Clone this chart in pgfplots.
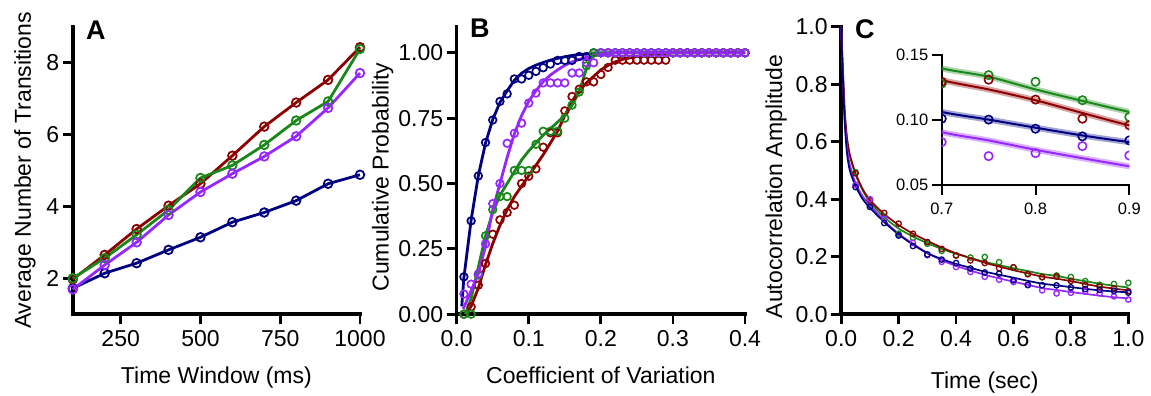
\documentclass[border=0pt]{standalone}
\usepackage{fontspec}
\setmainfont{Liberation Sans}
\usepackage{pgfplots}
\usepackage{pgfplotstable}
\pgfplotsset{compat=1.18}

\definecolor{cRed}{RGB}{140,0,0}
\definecolor{cGreen}{RGB}{25,135,25}
\definecolor{cPurple}{RGB}{150,40,255}
\definecolor{cBlue}{RGB}{0,0,128}

% ---------- Panel A data ----------
\pgfplotstableread{
x    blue red  green purple
100  1.72 1.97 2.00  1.69
200  2.14 2.65 2.56  2.37
300  2.42 3.37 3.21  3.00
400  2.79 4.02 3.90  3.76
500  3.14 4.63 4.79  4.40
600  3.56 5.41 5.14  4.91
700  3.83 6.22 5.71  5.39
800  4.16 6.89 6.39  5.95
900  4.63 7.52 6.92  6.74
1000 4.88 8.43 8.38  7.71
}\tabA

% ---------- Panel B data (empirical CDF points) ----------
\pgfplotstableread{
x    blue  red   green purple
0.01 0.143 0.000 0.000 0.077
0.02 0.357 0.028 0.000 0.115
0.03 0.529 0.111 0.150 0.154
0.04 0.657 0.194 0.300 0.269
0.05 0.743 0.306 0.400 0.423
0.06 0.814 0.361 0.450 0.500
0.07 0.843 0.389 0.450 0.654
0.08 0.900 0.417 0.550 0.692
0.09 0.900 0.500 0.550 0.731
0.10 0.914 0.528 0.550 0.808
0.11 0.929 0.556 0.650 0.846
0.12 0.943 0.639 0.700 0.885
0.13 0.957 0.694 0.700 0.885
0.14 0.971 0.694 0.700 0.885
0.15 0.971 0.778 0.750 0.885
0.16 0.971 0.833 0.800 0.923
0.17 0.986 0.861 0.850 0.923
0.18 0.986 0.889 0.950 0.962
0.19 1.000 0.889 1.000 0.962
0.20 1.000 0.917 1.000 1.000
0.21 1.000 0.944 1.000 1.000
0.22 1.000 0.972 1.000 1.000
0.23 1.000 0.972 1.000 1.000
0.24 1.000 0.972 1.000 1.000
0.25 1.000 0.972 1.000 1.000
0.26 1.000 0.972 1.000 1.000
0.27 1.000 0.972 1.000 1.000
0.28 1.000 0.972 1.000 1.000
0.29 1.000 0.972 1.000 1.000
0.30 1.000 1.000 1.000 1.000
0.31 1.000 1.000 1.000 1.000
0.32 1.000 1.000 1.000 1.000
0.33 1.000 1.000 1.000 1.000
0.34 1.000 1.000 1.000 1.000
0.35 1.000 1.000 1.000 1.000
0.36 1.000 1.000 1.000 1.000
0.37 1.000 1.000 1.000 1.000
0.38 1.000 1.000 1.000 1.000
0.39 1.000 1.000 1.000 1.000
0.40 1.000 1.000 1.000 1.000
}\tabB

\pgfplotstableread{
x     y
0.007 0.03
0.01  0.14
0.02  0.36
0.03  0.53
0.04  0.655
0.05  0.745
0.06  0.81
0.07  0.855
0.08  0.895
0.09  0.922
0.10  0.94
0.11  0.953
0.12  0.963
0.13  0.972
0.14  0.979
0.15  0.985
0.16  0.99
0.17  0.993
0.18  0.995
0.20  0.998
0.22  1.0
0.40  1.0
}\fitBblue

\pgfplotstableread{
x     y
0.009 0.02
0.02  0.09
0.03  0.155
0.04  0.26
0.05  0.40
0.06  0.50
0.07  0.60
0.08  0.69
0.09  0.76
0.10  0.815
0.11  0.855
0.12  0.89
0.13  0.915
0.14  0.935
0.15  0.952
0.16  0.965
0.17  0.975
0.18  0.983
0.19  0.99
0.20  0.995
0.22  1.0
0.40  1.0
}\fitBpurple

\pgfplotstableread{
x     y
0.012 0.0
0.02  0.06
0.03  0.18
0.04  0.30
0.05  0.39
0.06  0.455
0.07  0.50
0.08  0.545
0.09  0.59
0.10  0.625
0.11  0.655
0.12  0.685
0.13  0.71
0.14  0.735
0.15  0.76
0.16  0.80
0.17  0.85
0.18  0.94
0.19  1.0
0.40  1.0
}\fitBgreen

\pgfplotstableread{
x     y
0.012 0.0
0.02  0.03
0.03  0.10
0.04  0.19
0.05  0.27
0.06  0.34
0.07  0.40
0.08  0.45
0.09  0.49
0.10  0.53
0.11  0.57
0.12  0.61
0.13  0.655
0.14  0.70
0.15  0.76
0.16  0.815
0.17  0.855
0.18  0.885
0.19  0.91
0.20  0.935
0.21  0.952
0.22  0.965
0.23  0.975
0.25  0.986
0.28  0.996
0.30  1.0
0.40  1.0
}\fitBred

% ---------- Panel C data ----------
\pgfplotstableread{
x    blue   red    green  purple
0.05 0.442  0.490  0.494  0.450
0.10 0.373  0.396  0.398  0.400
0.15 0.317  0.352  0.340  0.332
0.20 0.274  0.315  0.280  0.274
0.25 0.237  0.280  0.266  0.248
0.30 0.208  0.251  0.245  0.205
0.35 0.190  0.227  0.220  0.182
0.40 0.178  0.204  0.205  0.164
0.45 0.159  0.187  0.197  0.147
0.50 0.145  0.178  0.199  0.130
0.55 0.141  0.160  0.181  0.120
0.60 0.118  0.163  0.163  0.112
0.65 0.102  0.139  0.141  0.101
0.70 0.101  0.1294 0.128  0.083
0.75 0.1003 0.131  0.1345 0.0722
0.80 0.0933 0.1157 0.1294 0.0745
0.85 0.0874 0.101  0.1152 0.0799
0.90 0.0843 0.0959 0.1023 0.0727
0.95 0.081  0.090  0.105  0.062
1.00 0.075  0.080  0.109  0.051
}\tabC

\pgfplotstableread{
x     blue   red    green  purple
0.000 1.000  1.000  1.000  1.000
0.003 0.900  0.920  0.920  0.900
0.006 0.820  0.850  0.850  0.820
0.012 0.670  0.710  0.710  0.680
0.020 0.560  0.615  0.610  0.580
0.030 0.500  0.555  0.550  0.520
0.050 0.445  0.490  0.485  0.455
0.075 0.400  0.435  0.430  0.410
0.100 0.370  0.397  0.390  0.380
0.150 0.320  0.348  0.337  0.325
0.200 0.277  0.310  0.298  0.280
0.250 0.242  0.280  0.270  0.245
0.300 0.212  0.255  0.247  0.213
0.350 0.192  0.232  0.227  0.188
0.400 0.175  0.212  0.210  0.168
0.500 0.148  0.179  0.182  0.137
0.600 0.127  0.153  0.160  0.113
0.650 0.116  0.142  0.150  0.102
0.700 0.1062 0.1307 0.1397 0.0907
0.750 0.1003 0.1235 0.1333 0.0843
0.800 0.0941 0.1152 0.1235 0.0771
0.850 0.0881 0.1054 0.1147 0.0706
0.900 0.0830 0.0959 0.1062 0.0644
0.950 0.0790 0.0890 0.0990 0.0590
1.000 0.0760 0.0830 0.0930 0.0550
}\fitC

\pgfplotsset{
  panel/.style={
    scale only axis, anchor=south west,
    axis lines=left,
    axis line style={line width=3.5pt, -, line cap=rect},
    tick style={line width=2.8pt, black},
    tick align=outside,
    major tick length=10pt,
    tick label style={font=\fontsize{23}{27}\selectfont},
    label style={font=\fontsize{23}{27}\selectfont},
    xticklabel style={yshift=-3pt},
    /pgf/number format/assume math mode=true,
    /pgf/number format/1000 sep={},
    clip=false,
    xlabel style={anchor=base},
    ylabel style={anchor=base},
  },
  Aplot/.style={color=#1, line width=2.8pt, mark=o, mark size=4.3pt,
    mark options={line width=1.8pt, solid}},
  Bpts/.style={color=#1, only marks, mark=o, mark size=3.8pt,
    mark options={line width=1.7pt}},
  Bfit/.style={color=#1, line width=2.8pt, no marks},
  Cpts/.style={color=#1, only marks, mark=o, mark size=2.7pt,
    mark options={line width=1.3pt}},
  Cfit/.style={color=#1, line width=1.7pt, no marks, smooth, tension=0.4},
  Ipts/.style={color=#1, only marks, mark=o, mark size=4.2pt,
    mark options={line width=1.6pt}},
  Iband/.style={color=#1, line width=6pt, no marks, opacity=0.35, smooth},
  Ifit/.style={color=#1, line width=2pt, no marks, smooth},
}

\begin{document}
\begin{tikzpicture}
\useasboundingbox (0pt,0pt) rectangle (1151pt,396pt);

% ================= Panel A =================
\begin{axis}[panel, at={(72.8pt,81.8pt)}, width=287.2pt, height=287.5pt,
  xmin=100, xmax=1000, ymin=1, ymax=9,
  xtick={250,500,750,1000}, ytick={2,4,6,8},
  xlabel={Time Window (ms)}, ylabel={Average Number of Transitions},
  xlabel style={at={(axis description cs:0.5,-0.240)}},
  ylabel style={at={(axis description cs:-0.146,0.5)}},
]
\addplot[Aplot=cBlue]   table[x=x,y=blue]   {\tabA};
\addplot[Aplot=cRed]    table[x=x,y=red]    {\tabA};
\addplot[Aplot=cGreen]  table[x=x,y=green]  {\tabA};
\addplot[Aplot=cPurple] table[x=x,y=purple] {\tabA};
\end{axis}

% ================= Panel B =================
\begin{axis}[panel, at={(456.7pt,81.8pt)}, width=288.3pt, height=287.5pt,
  xmin=0, xmax=0.4, ymin=0, ymax=1.1,
  xtick={0,0.1,0.2,0.3,0.4}, ytick={0,0.25,0.5,0.75,1},
  xticklabel style={/pgf/number format/.cd, fixed, fixed zerofill, precision=1},
  yticklabel style={/pgf/number format/.cd, fixed, fixed zerofill, precision=2},
  xlabel={Coefficient of Variation}, ylabel={Cumulative Probability},
  xlabel style={at={(axis description cs:0.5,-0.240)}},
  ylabel style={at={(axis description cs:-0.236,0.477)}},
]
\addplot[Bfit=cBlue]   table {\fitBblue};
\addplot[Bpts=cBlue]   table[x=x,y=blue]   {\tabB};
\addplot[Bfit=cRed]    table {\fitBred};
\addplot[Bpts=cRed]    table[x=x,y=red]    {\tabB};
\addplot[Bfit=cGreen]  table {\fitBgreen};
\addplot[Bpts=cGreen]  table[x=x,y=green]  {\tabB};
\addplot[Bfit=cPurple] table {\fitBpurple};
\addplot[Bpts=cPurple] table[x=x,y=purple] {\tabB};
\end{axis}

% ================= Panel C =================
\begin{axis}[panel, at={(841.2pt,81.8pt)}, width=287.1pt, height=287.5pt,
  xmin=0, xmax=1, ymin=0, ymax=1,
  xtick={0,0.2,0.4,0.6,0.8,1}, ytick={0,0.2,0.4,0.6,0.8,1},
  xticklabel style={/pgf/number format/.cd, fixed, fixed zerofill, precision=1},
  yticklabel style={/pgf/number format/.cd, fixed, fixed zerofill, precision=1},
  xlabel={Time (sec)}, ylabel={Autocorrelation Amplitude},
  xlabel style={at={(axis description cs:0.5,-0.257)}},
  ylabel style={at={(axis description cs:-0.206,0.444)}},
]
\addplot[Cfit=cGreen]  table[x=x,y=green]  {\fitC};
\addplot[Cpts=cGreen]  table[x=x,y=green]  {\tabC};
\addplot[Cfit=cRed]    table[x=x,y=red]    {\fitC};
\addplot[Cpts=cRed]    table[x=x,y=red]    {\tabC};
\addplot[Cfit=cPurple] table[x=x,y=purple] {\fitC};
\addplot[Cpts=cPurple] table[x=x,y=purple] {\tabC};
\addplot[Cfit=cBlue]   table[x=x,y=blue]   {\fitC};
\addplot[Cpts=cBlue]   table[x=x,y=blue]   {\tabC};
\end{axis}

% ================= Inset =================
\begin{axis}[scale only axis, anchor=south west, at={(941.7pt,211pt)},
  width=187.6pt, height=130pt,
  xmin=0.7, xmax=0.9, ymin=0.05, ymax=0.15,
  axis lines=left,
  axis line style={line width=2pt, -, line cap=rect},
  tick style={line width=2pt, black},
  tick align=outside, major tick length=10pt,
  tick label style={font=\fontsize{16.5}{19}\selectfont},
  xticklabel style={yshift=-4.5pt, /pgf/number format/.cd, fixed, fixed zerofill, precision=1},
  yticklabel style={/pgf/number format/.cd, fixed, fixed zerofill, precision=2},
  /pgf/number format/assume math mode=true,
  xtick={0.7,0.8,0.9}, ytick={0.05,0.10,0.15},
  clip marker paths=true,
]
\addplot[Iband=cGreen]  table[x=x,y=green]  {\fitC};
\addplot[Ifit=cGreen]   table[x=x,y=green]  {\fitC};
\addplot[Iband=cRed]    table[x=x,y=red]    {\fitC};
\addplot[Ifit=cRed]     table[x=x,y=red]    {\fitC};
\addplot[Iband=cBlue]   table[x=x,y=blue]   {\fitC};
\addplot[Ifit=cBlue]    table[x=x,y=blue]   {\fitC};
\addplot[Iband=cPurple] table[x=x,y=purple] {\fitC};
\addplot[Ifit=cPurple]  table[x=x,y=purple] {\fitC};
\addplot[Ipts=cGreen,  restrict x to domain=0.69:0.91] table[x=x,y=green]  {\tabC};
\addplot[Ipts=cRed,    restrict x to domain=0.69:0.91] table[x=x,y=red]    {\tabC};
\addplot[Ipts=cBlue,   restrict x to domain=0.69:0.91] table[x=x,y=blue]   {\tabC};
\addplot[Ipts=cPurple, restrict x to domain=0.69:0.91] table[x=x,y=purple] {\tabC};
\end{axis}

% panel letters
\node[anchor=base west, inner sep=0pt, font=\fontsize{27}{30}\bfseries\selectfont] at (86pt,356.7pt) {A};
\node[anchor=base west, inner sep=0pt, font=\fontsize{27}{30}\bfseries\selectfont] at (470pt,358pt) {B};
\node[anchor=base west, inner sep=0pt, font=\fontsize{27}{30}\bfseries\selectfont] at (855pt,357.7pt) {C};
\end{tikzpicture}
\end{document}
